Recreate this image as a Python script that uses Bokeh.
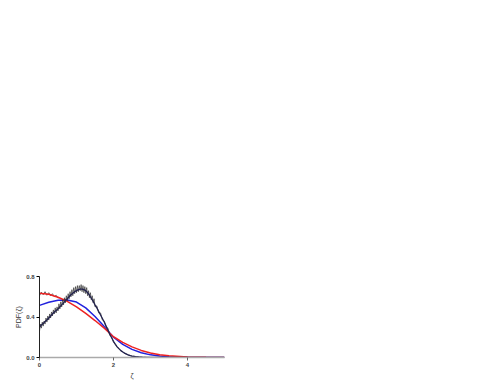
from bokeh.plotting import figure
from bokeh.models import FixedTicker, PrintfTickFormatter, Range1d
from bokeh.embed import file_html
from bokeh.resources import INLINE

# Smooth fit curves
x_fit = [0, 0.25, 0.5, 0.75, 1.0, 1.25, 1.5, 1.75, 2.0, 2.25, 2.5, 2.75, 3.0, 3.25, 3.5, 4.0, 4.5, 5.0]
red_y = [0.635, 0.625, 0.595, 0.555, 0.5, 0.435, 0.365, 0.29, 0.205, 0.15, 0.105, 0.07, 0.045, 0.028, 0.017, 0.006, 0.002, 0.001]
blue_y = [0.515, 0.545, 0.565, 0.568, 0.548, 0.49, 0.405, 0.305, 0.2, 0.13, 0.08, 0.047, 0.026, 0.014, 0.007, 0.002, 0.0005, 0.0]

x_navy = [0, 0.05, 0.1, 0.15, 0.2, 0.25, 0.3, 0.35, 0.4, 0.45, 0.5, 0.55, 0.6, 0.65, 0.7, 0.75, 0.8, 0.85, 0.9, 0.95,
          1.0, 1.05, 1.1, 1.15, 1.2, 1.25, 1.3, 1.35, 1.4, 1.45, 1.5, 1.55, 1.6, 1.65, 1.7, 1.75, 1.8, 1.85, 1.9, 1.95,
          2.0, 2.05, 2.1, 2.15, 2.2, 2.25, 2.3, 2.35, 2.4, 2.45, 2.5, 2.55, 2.6, 2.65, 2.7, 2.75, 2.8, 2.85, 2.9, 2.95,
          3.0, 4.0, 5.0]
navy_y = [0.30, 0.32, 0.335, 0.355, 0.37, 0.39, 0.41, 0.43, 0.45, 0.465, 0.48, 0.50, 0.52, 0.54, 0.56, 0.58, 0.60, 0.62, 0.635, 0.65,
          0.66, 0.67, 0.675, 0.675, 0.67, 0.66, 0.64, 0.615, 0.585, 0.555, 0.52, 0.49, 0.455, 0.42, 0.385, 0.35, 0.31, 0.27, 0.23, 0.195,
          0.16, 0.13, 0.105, 0.085, 0.068, 0.055, 0.043, 0.033, 0.025, 0.019, 0.014, 0.011, 0.008, 0.006, 0.004, 0.003, 0.002, 0.001, 0.001, 0.0,
          0.0, 0.0, 0.0]

# Noisy histogram data
x_data = [0, 0.025, 0.05, 0.075, 0.1, 0.125, 0.15, 0.175, 0.2, 0.225, 0.25, 0.275, 0.3, 0.325, 0.35, 0.375, 0.4, 0.425,
          0.45, 0.475, 0.5, 0.525, 0.55, 0.575, 0.6, 0.625, 0.65, 0.675, 0.7, 0.725, 0.75, 0.775, 0.8, 0.825, 0.85, 0.875,
          0.9, 0.925, 0.95, 0.975, 1.0, 1.025, 1.05, 1.075, 1.1, 1.125, 1.15, 1.175, 1.2, 1.225, 1.25, 1.275, 1.3, 1.325,
          1.35, 1.375, 1.4, 1.425, 1.45, 1.475, 1.5, 1.55, 1.6, 1.65, 1.7, 1.75, 1.8, 1.85, 1.9, 1.95,
          2.0, 2.05, 2.1, 2.15, 2.2, 2.25, 2.3, 2.35, 2.4, 2.45, 2.5, 2.55, 2.6, 2.65, 2.7, 2.75, 2.8, 2.85, 2.9, 2.95, 3.0]
data_y = [0.26, 0.33, 0.29, 0.35, 0.31, 0.36, 0.33, 0.39, 0.35, 0.41, 0.37, 0.43, 0.39, 0.45, 0.41, 0.47, 0.43, 0.49,
          0.44, 0.50, 0.46, 0.53, 0.48, 0.55, 0.50, 0.57, 0.52, 0.59, 0.54, 0.61, 0.56, 0.63, 0.58, 0.65, 0.60, 0.67,
          0.61, 0.69, 0.63, 0.70, 0.64, 0.71, 0.65, 0.71, 0.66, 0.72, 0.65, 0.71, 0.64, 0.70, 0.63, 0.69, 0.61, 0.66,
          0.59, 0.64, 0.57, 0.61, 0.54, 0.58, 0.50, 0.51, 0.44, 0.44, 0.37, 0.36, 0.30, 0.29, 0.22, 0.20,
          0.15, 0.135, 0.10, 0.09, 0.063, 0.058, 0.04, 0.036, 0.022, 0.021, 0.012, 0.013, 0.007, 0.008, 0.004, 0.004, 0.002, 0.003, 0.001, 0.001, 0.0]

x_data2 = [0, 0.05, 0.1, 0.15, 0.2, 0.25, 0.3, 0.35, 0.4, 0.45, 0.5]
data2_y = [0.61, 0.645, 0.62, 0.65, 0.615, 0.64, 0.61, 0.63, 0.60, 0.615, 0.585]

x_ticks = [0, 2, 4]
y_ticks = [0.0, 0.4, 0.8]

p = figure(output_backend="svg", toolbar_location=None,
           frame_width=185, frame_height=81,
           min_border_left=39, min_border_right=255, min_border_top=276, min_border_bottom=20,
           x_range=Range1d(0, 5), y_range=Range1d(0, 0.8))
p.background_fill_color = "white"
p.border_fill_color = "white"
p.outline_line_color = None
p.xgrid.visible = False
p.ygrid.visible = False

p.line(x_data2, data2_y, line_color="#444444", line_width=0.8)
p.line(x_fit, blue_y, line_color="#2222dd", line_width=1.5)
p.line(x_fit, red_y, line_color="#ee2222", line_width=1.5)
p.line(x_data, data_y, line_color="#333333", line_width=0.7)
p.line(x_navy, navy_y, line_color="#22224e", line_width=1.3)

p.xaxis.ticker = FixedTicker(ticks=x_ticks)
p.yaxis.ticker = FixedTicker(ticks=y_ticks)
p.yaxis.formatter = PrintfTickFormatter(format="%.1f")
p.xaxis.formatter = PrintfTickFormatter(format="%d")
p.xaxis.axis_label = "ζ"
p.yaxis.axis_label = "PDF(ζ)"
for ax in (p.xaxis, p.yaxis):
    ax.minor_tick_line_color = None
    ax.major_tick_in = 0
    ax.major_tick_out = 3
    ax.major_label_text_font = "Liberation Sans"
    ax.major_label_text_font_size = "6px"
    ax.major_label_text_font_style = "bold"
    ax.major_label_text_color = "#444444"
    ax.major_label_standoff = 2
    ax.axis_label_text_font = "Liberation Sans"
    ax.axis_label_text_font_size = "7px"
    ax.axis_label_text_font_style = "normal"
    ax.axis_label_text_color = "#333333"
p.yaxis.axis_label_standoff = 1
p.xaxis.axis_label_standoff = 2
p.yaxis.axis_line_color = "#222222"
p.xaxis.axis_line_color = "#aaaaaa"
p.xaxis.axis_line_width = 1.5
p.xaxis.major_tick_line_color = "#666666"

open("out.html", "w").write(file_html(p, INLINE))
